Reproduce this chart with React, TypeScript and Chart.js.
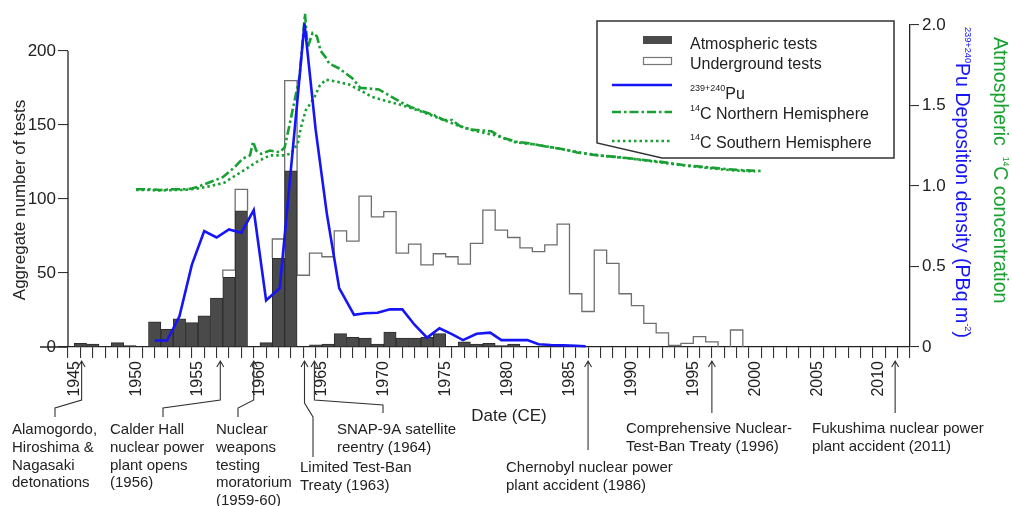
import React, { useEffect, useRef } from "react";
import { Chart, registerables } from "chart.js";
Chart.register(...registerables);

const FONT = 'Arial, "Liberation Sans", Helvetica, sans-serif';

// ---- Nuclear tests per year (aggregate number of tests) ----
const years = [
  1945, 1946, 1947, 1948, 1949, 1950, 1951, 1952, 1953, 1954, 1955, 1956, 1957, 1958, 1959,
  1960, 1961, 1962, 1963, 1964, 1965, 1966, 1967, 1968, 1969, 1970, 1971, 1972, 1973, 1974,
  1975, 1976, 1977, 1978, 1979, 1980, 1981, 1982, 1983, 1984, 1985, 1986, 1987, 1988, 1989,
  1990, 1991, 1992, 1993, 1994, 1995, 1996, 1997, 1998,
];
const atmosphericTests = [
  2.5, 2, 0, 3, 1, 0, 17, 12, 19, 16.5, 21, 33, 47, 92, 0,
  3, 60, 119, 0, 1.5, 2, 9, 6.5, 6, 2, 10, 6, 6, 6.5, 9,
  0, 3.5, 2, 2.5, 1, 2, 0, 0, 0, 0, 0, 0, 0, 0, 0,
  0, 0, 0, 0, 0, 0, 0, 0, 0,
];
const totalTests = [
  2.5, 2, 0, 3, 1, 0, 17, 12, 19, 16.5, 21, 33, 52, 106.5, 0,
  3, 73, 180, 48.5, 63.5, 61, 78.5, 71.5, 102, 88, 91.5, 63.5, 69.5, 55.5, 63,
  61, 56, 70, 92.5, 79, 74, 67, 64.5, 69, 83, 36, 24, 65.5, 56.5, 36,
  28, 16, 9.5, 1, 2.5, 7, 3.5, 0, 11.5,
];

// ---- 239+240Pu deposition density (PBq m-2) ----
const puYears = [
  1951.5, 1952.5, 1953.5, 1954.5, 1955.5, 1956.5, 1957.5, 1958.5, 1959.5, 1960.5, 1961.6,
  1963.0, 1963.6, 1964.5, 1965.4, 1966.4, 1967.6, 1968.5, 1969.5, 1970.5, 1971.5, 1972.5,
  1973.5, 1974.5, 1975.5, 1976.4, 1977.5, 1978.6, 1979.5, 1980.5, 1981.6, 1982.5, 1983.5,
  1984.5, 1985.5, 1986.3,
];
const puValues = [
  0.04, 0.04, 0.19, 0.51, 0.72, 0.68, 0.73, 0.71, 0.85, 0.29, 0.365,
  1.51, 2.01, 1.35, 0.83, 0.366, 0.2, 0.21, 0.213, 0.234, 0.234, 0.137,
  0.058, 0.116, 0.08, 0.043, 0.082, 0.089, 0.043, 0.043, 0.043, 0.017, 0.012,
  0.01, 0.008, 0.005,
];

// ---- Atmospheric 14C, Northern Hemisphere ----
const c14NorthYears = [
  1950, 1951, 1952, 1953, 1954, 1954.5, 1955, 1956, 1957, 1958, 1958.6, 1959.2, 1959.45,
  1959.7, 1960.1, 1960.8, 1961.6, 1962.0, 1962.5, 1963.2, 1963.64, 1963.85, 1964.25, 1964.6,
  1964.9, 1965.3, 1965.6, 1966.4, 1967.45, 1968.1, 1969.6, 1970.6, 1971.4, 1972.2, 1973.3,
  1974.05, 1974.85, 1975.5, 1976.2, 1977.0, 1978.0, 1978.7, 1979.6, 1980.7, 1981.75, 1983.1,
  1984.4, 1985.7, 1987.3, 1988.9, 1990.5, 1992.4, 1994.2, 1996.3, 1998.5, 2000.5,
];
const c14NorthValues = [
  0.98, 0.98, 0.975, 0.98, 0.98, 0.985, 0.995, 1.025, 1.055, 1.12, 1.17, 1.19, 1.275,
  1.22, 1.2, 1.22, 1.21, 1.24, 1.42, 1.68, 2.07, 1.86, 1.95, 1.93,
  1.84, 1.8, 1.76, 1.73, 1.67, 1.61, 1.6, 1.555, 1.52, 1.49, 1.46,
  1.44, 1.41, 1.41, 1.37, 1.35, 1.345, 1.34, 1.3, 1.275, 1.265, 1.245,
  1.23, 1.207, 1.19, 1.18, 1.166, 1.15, 1.13, 1.115, 1.1, 1.093,
];

// ---- Atmospheric 14C, Southern Hemisphere ----
const c14SouthYears = [
  1950, 1951, 1952, 1953, 1954, 1955, 1956, 1957.1, 1958.55, 1959.75, 1960.8, 1961.9, 1962.5,
  1963.06, 1963.3, 1963.7, 1964.4, 1964.8, 1965.3, 1966.1, 1967.2, 1968.2, 1969.0, 1970.1,
  1971.1, 1972.2, 1973.3, 1974.5, 1976.0, 1977.5, 1979.0, 1980.7, 1982.0, 1984.0, 1986.0,
  1988.0, 1990.0, 1992.0, 1994.0, 1996.0, 1998.0, 2000.0,
];
const c14SouthValues = [
  0.975, 0.975, 0.972, 0.975, 0.976, 0.985, 1.0, 1.02, 1.09, 1.15, 1.19, 1.19, 1.2,
  1.265, 1.36, 1.47, 1.55, 1.62, 1.66, 1.65, 1.63, 1.59, 1.555, 1.53,
  1.51, 1.485, 1.455, 1.42, 1.375, 1.34, 1.315, 1.27, 1.26, 1.235, 1.205,
  1.185, 1.17, 1.15, 1.13, 1.113, 1.098, 1.09,
];

// ---- Axis ticks ----
const leftTicks = [0, 50, 100, 150, 200];
const rightTicks = [0, 0.5, 1.0, 1.5, 2.0];

// ---- Events annotated below the time axis ----
const eventYears = [1945.6, 1956.8, 1959.5, 1963.6, 1964.4, 1986.5, 1996.5, 2011.3];
const eventLabels = [
  ["Alamogordo,", "Hiroshima &", "Nagasaki", "detonations"],
  ["Calder Hall", "nuclear power", "plant opens", "(1956)"],
  ["Nuclear", "weapons", "testing", "moratorium", "(1959-60)"],
  ["Limited Test-Ban", "Treaty (1963)"],
  ["SNAP-9A satellite", "reentry (1964)"],
  ["Chernobyl nuclear power", "plant accident (1986)"],
  ["Comprehensive Nuclear-", "Test-Ban Treaty (1996)"],
  ["Fukushima nuclear power", "plant accident (2011)"],
];

const BLUE = "#1515f5";
const GREEN = "#18a033";
const TEXT = "#222";

type Part = { t: string; sup?: boolean };

function drawRich(ctx: CanvasRenderingContext2D, parts: Part[], x: number, y: number, size: number, supSize: number, supRise: number) {
  let cx = x;
  for (const p of parts) {
    ctx.font = `${p.sup ? supSize : size}px ${FONT}`;
    ctx.fillText(p.t, cx, p.sup ? y - supRise : y);
    cx += ctx.measureText(p.t).width;
  }
}

const overlayPlugin = {
  id: "overlay",
  afterDraw(chart: any) {
    const ctx: CanvasRenderingContext2D = chart.ctx;
    const sx = chart.scales.x;
    const sy = chart.scales.y;
    ctx.save();

    // left axis line (0..200) and baseline extension
    ctx.strokeStyle = TEXT;
    ctx.lineWidth = 1.3;
    ctx.beginPath();
    ctx.moveTo(sx.left, sy.getPixelForValue(0));
    ctx.lineTo(sx.left, sy.getPixelForValue(200));
    ctx.moveTo(40, sy.getPixelForValue(0));
    ctx.lineTo(sx.left, sy.getPixelForValue(0));
    ctx.stroke();

    // left axis title
    ctx.fillStyle = TEXT;
    ctx.save();
    ctx.translate(20, 200);
    ctx.rotate(-Math.PI / 2);
    ctx.font = `17px ${FONT}`;
    ctx.textAlign = "center";
    ctx.textBaseline = "middle";
    ctx.fillText("Aggregate number of tests", 0, 0);
    ctx.restore();

    // right axis titles
    ctx.textAlign = "left";
    ctx.textBaseline = "alphabetic";
    ctx.save();
    ctx.translate(956, 27);
    ctx.rotate(Math.PI / 2);
    ctx.fillStyle = BLUE;
    drawRich(ctx, [{ t: "239+240", sup: true }, { t: "Pu Deposition density (PBq m" }, { t: "-2", sup: true }, { t: ")" }], 0, 0, 19.6, 9.2, 8.5);
    ctx.restore();
    ctx.save();
    ctx.translate(994, 37);
    ctx.rotate(Math.PI / 2);
    ctx.fillStyle = GREEN;
    drawRich(ctx, [{ t: "Atmospheric  " }, { t: "14", sup: true }, { t: "C concentration" }], 0, 0, 19.6, 8.5, 9);
    ctx.restore();

    // x title
    ctx.fillStyle = TEXT;
    ctx.font = `17px ${FONT}`;
    ctx.textAlign = "center";
    ctx.textBaseline = "middle";
    ctx.fillText("Date (CE)", 509, 416);

    // legend box
    ctx.beginPath();
    ctx.moveTo(597, 21);
    ctx.lineTo(894, 21);
    ctx.lineTo(894, 158);
    ctx.lineTo(662, 158);
    ctx.lineTo(597, 143);
    ctx.closePath();
    ctx.fillStyle = "#fff";
    ctx.fill();
    ctx.strokeStyle = "#333";
    ctx.lineWidth = 1.5;
    ctx.stroke();

    ctx.fillStyle = "#4a4a4a";
    ctx.fillRect(643, 36, 29, 8);
    ctx.strokeStyle = "#777";
    ctx.lineWidth = 1.2;
    ctx.strokeRect(643.5, 57.5, 28, 7);
    const legLine = (y: number, color: string, dash: number[]) => {
      ctx.beginPath();
      ctx.setLineDash(dash);
      ctx.strokeStyle = color;
      ctx.lineWidth = 2.6;
      ctx.moveTo(612, y);
      ctx.lineTo(672, y);
      ctx.stroke();
      ctx.setLineDash([]);
    };
    legLine(85, BLUE, []);
    legLine(112, GREEN, [9, 3, 2.5, 3]);
    legLine(141, GREEN, [2.5, 3]);

    ctx.fillStyle = TEXT;
    ctx.textAlign = "left";
    ctx.textBaseline = "alphabetic";
    ctx.font = `16px ${FONT}`;
    ctx.fillText("Atmospheric tests", 690, 48.5);
    ctx.fillText("Underground tests", 690, 68.5);
    drawRich(ctx, [{ t: "239+240", sup: true }, { t: "Pu" }], 690, 99, 16, 9, 8);
    drawRich(ctx, [{ t: "14", sup: true }, { t: "C Northern Hemisphere" }], 690, 119, 16, 9, 8);
    drawRich(ctx, [{ t: "14", sup: true }, { t: "C Southern Hemisphere" }], 690, 148, 16, 9, 8);

    // event annotations
    const layout: { path: [number | null, number][]; tx: number; ty: number }[] = [
      { path: [[null, 400], [55, 408], [55, 417]], tx: 12, ty: 430 },
      { path: [[null, 400], [163, 408], [163, 417]], tx: 110, ty: 430 },
      { path: [[null, 400], [238, 408], [238, 417]], tx: 216, ty: 430 },
      { path: [[null, 403], [313, 417], [313, 457]], tx: 300, ty: 468 },
      { path: [[null, 400], [383, 405], [383, 413]], tx: 337, ty: 430 },
      { path: [[null, 450]], tx: 506, ty: 468 },
      { path: [[null, 413]], tx: 626, ty: 429 },
      { path: [[null, 413]], tx: 812, ty: 429 },
    ];
    ctx.strokeStyle = "#333";
    ctx.lineWidth = 1.1;
    ctx.font = `15px ${FONT}`;
    ctx.textBaseline = "middle";
    eventYears.forEach((yr, i) => {
      const ax = sx.getPixelForValue(yr);
      const top = 361;
      ctx.beginPath();
      ctx.moveTo(ax - 3.5, top + 6);
      ctx.lineTo(ax, top);
      ctx.lineTo(ax + 3.5, top + 6);
      ctx.moveTo(ax, top);
      for (const [px, py] of layout[i].path) ctx.lineTo(px === null ? ax : px, py);
      ctx.stroke();
      eventLabels[i].forEach((line, k) => {
        ctx.fillText(line, layout[i].tx, layout[i].ty + k * 17.7);
      });
    });
    ctx.restore();
  },
};

export default function App() {
  const ref = useRef<HTMLCanvasElement>(null);
  useEffect(() => {
    const canvas = ref.current!;
    const atmData = years.map((y, i) => ({ x: y + 0.5, y: atmosphericTests[i] }));
    const stepData: { x: number; y: number | null }[] = [];
    let inRun = false;
    years.forEach((yr, i) => {
      const under = totalTests[i] - atmosphericTests[i];
      if (under > 0) {
        if (!inRun) {
          stepData.push({ x: yr, y: atmosphericTests[i] });
          inRun = true;
        }
        stepData.push({ x: yr, y: totalTests[i] }, { x: yr + 1, y: totalTests[i] });
        const nextUnder = i + 1 < years.length ? totalTests[i + 1] - atmosphericTests[i + 1] : 0;
        if (!(nextUnder > 0)) {
          stepData.push({ x: yr + 1, y: atmosphericTests[i] }, { x: yr + 1.0001, y: null });
          inRun = false;
        }
      }
    });
    const pu = puYears.map((y, i) => ({ x: y, y: puValues[i] }));
    const nh = c14NorthYears.map((y, i) => ({ x: y, y: c14NorthValues[i] }));
    const sh = c14SouthYears.map((y, i) => ({ x: y, y: c14SouthValues[i] }));

    const chart = new Chart(canvas, {
      type: "bar",
      data: {
        datasets: [
          {
            type: "bar",
            label: "Atmospheric tests",
            data: atmData as any,
            backgroundColor: "#4a4a4a",
            borderColor: "#2e2e2e",
            borderWidth: 1,
            barPercentage: 1,
            categoryPercentage: 1,
            xAxisID: "x",
            yAxisID: "y",
            order: 2,
          },
          {
            type: "line",
            label: "Underground tests",
            data: stepData as any,
            borderColor: "#6f6f6f",
            borderWidth: 1.3,
            pointRadius: 0,
            spanGaps: false,
            fill: false,
            xAxisID: "x",
            yAxisID: "y",
            order: 3,
          },
          {
            type: "line",
            label: "239+240Pu",
            data: pu as any,
            borderColor: BLUE,
            borderWidth: 2.6,
            pointRadius: 0,
            fill: false,
            clip: false as any,
            xAxisID: "x",
            yAxisID: "y2",
            order: 0,
          },
          {
            type: "line",
            label: "14C Northern Hemisphere",
            data: nh as any,
            borderColor: GREEN,
            borderWidth: 2.6,
            borderDash: [9, 3, 2.5, 3],
            pointRadius: 0,
            fill: false,
            clip: false as any,
            xAxisID: "x",
            yAxisID: "y2",
            order: 1,
          },
          {
            type: "line",
            label: "14C Southern Hemisphere",
            data: sh as any,
            borderColor: GREEN,
            borderWidth: 2.6,
            borderDash: [2.5, 3],
            pointRadius: 0,
            fill: false,
            clip: false as any,
            xAxisID: "x",
            yAxisID: "y2",
            order: 1,
          },
        ],
      },
      options: {
        responsive: false,
        animation: false,
        devicePixelRatio: 1,
        events: [],
        layout: { padding: { top: 25, left: 0, right: 0, bottom: 0 } },
        plugins: { legend: { display: false }, tooltip: { enabled: false } },
        scales: {
          x: {
            type: "linear",
            position: "bottom",
            min: 1945,
            max: 2012,
            afterFit: (s: any) => {
              s.height = 506 - 347;
            },
            ticks: {
              stepSize: 1,
              autoSkip: false,
              minRotation: 90,
              maxRotation: 90,
              padding: 3,
              color: TEXT,
              font: { family: FONT, size: 16 },
              callback: (v: any) => (Number(v) % 5 === 0 && Number(v) <= 2010 ? String(v) : ""),
            },
            grid: { drawOnChartArea: false, tickLength: 11, color: "#333", lineWidth: 1.1 },
            border: { color: TEXT, width: 1.3 },
          },
          y: {
            type: "linear",
            position: "left",
            min: 0,
            max: 217.6,
            afterFit: (s: any) => {
              s.width = 68;
            },
            afterBuildTicks: (s: any) => {
              s.ticks = leftTicks.map((v) => ({ value: v }));
            },
            ticks: {
              padding: 2,
              color: TEXT,
              font: { family: FONT, size: 17 },
              callback: (v: any) => String(v),
            },
            grid: { drawOnChartArea: false, tickLength: 10, color: "#333", lineWidth: 1.1 },
            border: { display: false },
          },
          y2: {
            type: "linear",
            position: "right",
            min: 0,
            max: 2,
            afterFit: (s: any) => {
              s.width = 1012 - 910;
            },
            afterBuildTicks: (s: any) => {
              s.ticks = rightTicks.map((v) => ({ value: v }));
            },
            ticks: {
              padding: 3,
              color: TEXT,
              font: { family: FONT, size: 17 },
              callback: (v: any) => (Number(v) === 0 ? "0" : Number(v).toFixed(1)),
            },
            grid: { drawOnChartArea: false, tickLength: 9, color: "#333", lineWidth: 1.1 },
            border: { color: TEXT, width: 1.3 },
          },
        },
      },
      plugins: [overlayPlugin],
    });
    return () => chart.destroy();
  }, []);
  return (
    <div style={{ position: "absolute", left: 0, top: 0, width: 1012, height: 506, background: "#fff" }}>
      <canvas ref={ref} width={1012} height={506} style={{ display: "block", width: 1012, height: 506 }} />
    </div>
  );
}
